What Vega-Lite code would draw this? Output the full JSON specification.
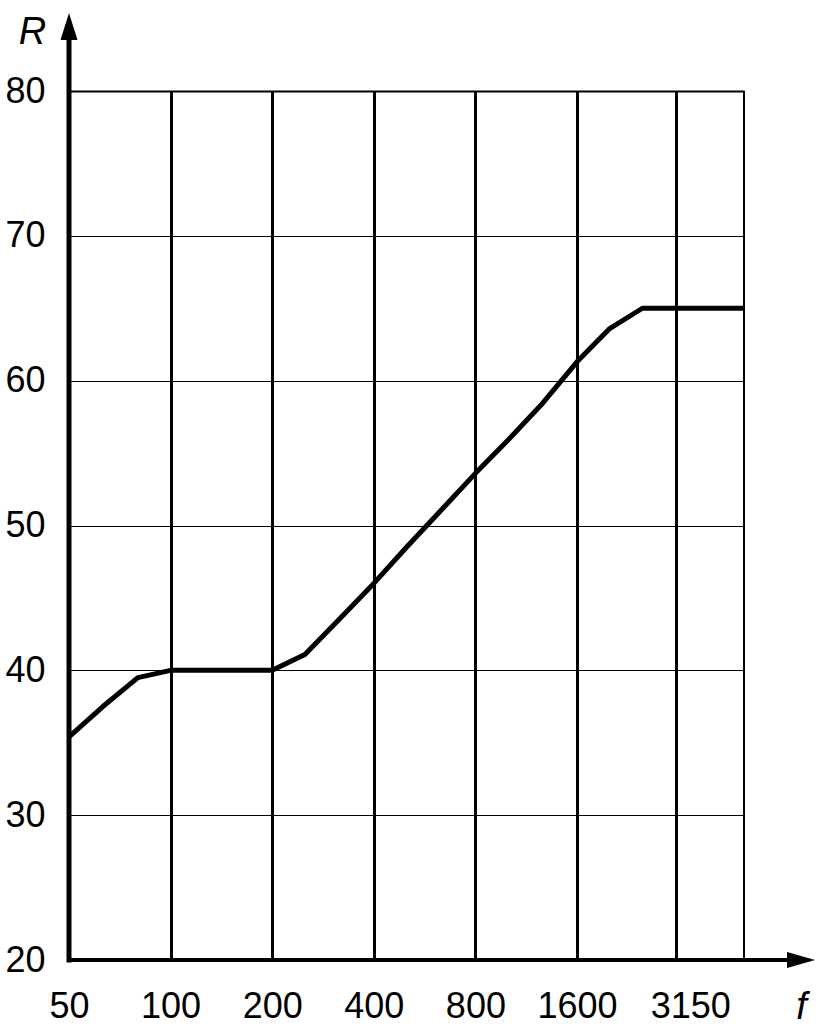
{
  "$schema": "https://vega.github.io/schema/vega-lite/v6.json",
  "width": 675,
  "height": 869,
  "autosize": "none",
  "padding": {"left": 69, "top": 91, "right": 79, "bottom": 69},
  "background": "white",
  "config": {
    "view": {"stroke": null},
    "font": "Liberation Sans",
    "axis": {
      "labelFont": "Liberation Sans",
      "titleFont": "Liberation Sans",
      "labelColor": "black",
      "titleColor": "black",
      "gridColor": "black",
      "gridOpacity": 1,
      "domain": false,
      "ticks": false,
      "tickSize": 0,
      "labelFontSize": 36,
      "titleFontSize": 38,
      "titleFontStyle": "italic",
      "titleFontWeight": "normal"
    }
  },
  "datasets": {
    "curve": [
      {"f": 50, "R": 35.4},
      {"f": 63, "R": 37.5},
      {"f": 80, "R": 39.5},
      {"f": 100, "R": 40},
      {"f": 125, "R": 40},
      {"f": 160, "R": 40},
      {"f": 200, "R": 40},
      {"f": 250, "R": 41.1},
      {"f": 315, "R": 43.5},
      {"f": 400, "R": 46.0},
      {"f": 500, "R": 48.5},
      {"f": 630, "R": 51.0},
      {"f": 800, "R": 53.6},
      {"f": 1000, "R": 55.9},
      {"f": 1250, "R": 58.3},
      {"f": 1600, "R": 61.3},
      {"f": 2000, "R": 63.6},
      {"f": 2500, "R": 65},
      {"f": 3150, "R": 65},
      {"f": 4000, "R": 65},
      {"f": 5000, "R": 65}
    ]
  },
  "layer": [
    {
      "data": {"values": [{"f": 5000}]},
      "mark": {"type": "rule", "color": "black", "strokeWidth": 2},
      "encoding": {
        "x": {"field": "f", "type": "quantitative", "scale": {"type": "log", "domain": [50, 5000], "nice": false}}
      }
    },
    {
      "data": {"name": "curve"},
      "mark": {"type": "line", "color": "black", "strokeWidth": 5, "strokeJoin": "round", "strokeCap": "butt"},
      "encoding": {
        "x": {
          "field": "f",
          "type": "quantitative",
          "scale": {"type": "log", "domain": [50, 5000], "nice": false},
          "axis": {
            "values": [50, 100, 200, 400, 800, 1600, 3150],
            "format": "d",
            "grid": true,
            "gridWidth": 3,
            "labelPadding": 29,
            "labelOffset": {"condition": {"test": "datum.value == 3150", "value": 14}, "value": 0},
            "labelFlush": false,
            "labelOverlap": false,
            "title": "f",
            "titleX": 732,
            "titleY": 58,
            "titleAlign": "center",
            "titleBaseline": "alphabetic"
          }
        },
        "y": {
          "field": "R",
          "type": "quantitative",
          "scale": {"domain": [20, 80], "nice": false, "zero": false},
          "axis": {
            "values": [20, 30, 40, 50, 60, 70, 80],
            "format": "d",
            "grid": true,
            "gridWidth": {"condition": {"test": "datum.value == 80", "value": 2}, "value": 1},
            "labelPadding": 24,
            "labelOverlap": false,
            "labelFlush": false,
            "title": "R",
            "titleAngle": 0,
            "titleX": -37,
            "titleY": -48,
            "titleAlign": "center",
            "titleBaseline": "alphabetic"
          }
        }
      }
    },
    {
      "data": {"values": [{"f": 50, "f2": 50, "R": 20, "R2": 84.4}]},
      "mark": {"type": "rule", "color": "black", "strokeWidth": 5, "strokeCap": "square"},
      "encoding": {
        "x": {"field": "f", "type": "quantitative"},
        "x2": {"field": "f2"},
        "y": {"field": "R", "type": "quantitative"},
        "y2": {"field": "R2"}
      }
    },
    {
      "data": {"values": [{"f": 50, "f2": 7376, "R": 20, "R2": 20}]},
      "mark": {"type": "rule", "color": "black", "strokeWidth": 4},
      "encoding": {
        "x": {"field": "f", "type": "quantitative"},
        "x2": {"field": "f2"},
        "y": {"field": "R", "type": "quantitative"},
        "y2": {"field": "R2"}
      }
    },
    {
      "data": {"values": [{"f": 50, "R": 84.45}]},
      "mark": {"type": "point", "shape": "M0,-1L0.63,1L-0.63,1Z", "size": 729, "filled": true, "color": "black", "opacity": 1, "strokeWidth": 0},
      "encoding": {
        "x": {"field": "f", "type": "quantitative"},
        "y": {"field": "R", "type": "quantitative"}
      }
    },
    {
      "data": {"values": [{"f": 7376, "R": 20}]},
      "mark": {"type": "point", "shape": "M1,0L-1,-0.57L-1,0.57Z", "size": 784, "filled": true, "color": "black", "opacity": 1, "strokeWidth": 0},
      "encoding": {
        "x": {"field": "f", "type": "quantitative"},
        "y": {"field": "R", "type": "quantitative"}
      }
    }
  ]
}
